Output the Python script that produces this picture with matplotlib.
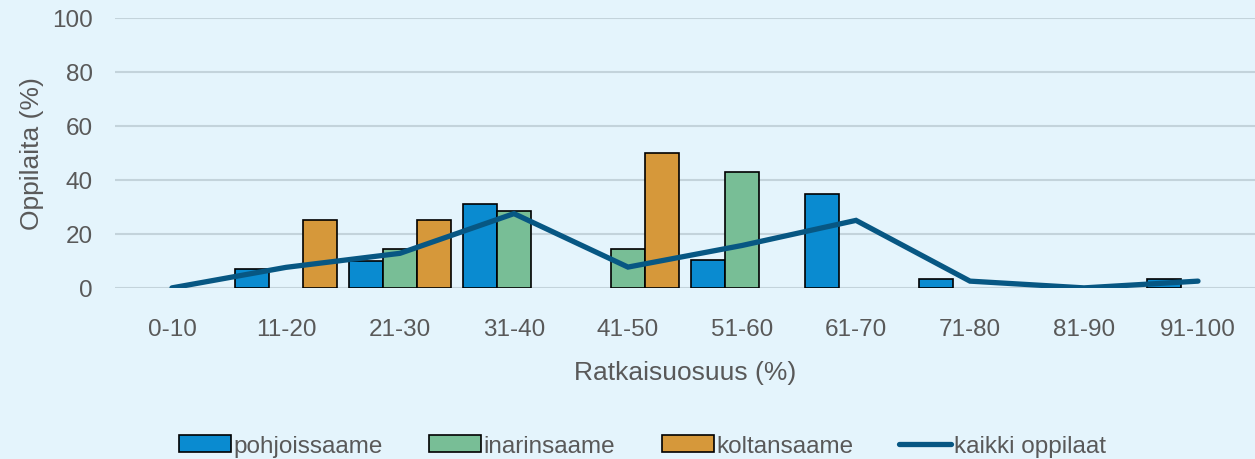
import matplotlib.pyplot as plt
from matplotlib.patches import Patch
from matplotlib.lines import Line2D
import numpy as np

plt.rcParams['font.family'] = ['Liberation Sans', 'DejaVu Sans']

# Ratkaisuosuus-luokat
luokat = ["0-10", "11-20", "21-30", "31-40", "41-50", "51-60",
          "61-70", "71-80", "81-90", "91-100"]

# Oppilaiden osuudet (%) kielittäin
pohjoissaame = [0, 7, 10, 31, 0, 10.4, 34.6, 3.4, 0, 3.4]
inarinsaame = [0, 0, 14.3, 28.6, 14.3, 42.9, 0, 0, 0, 0]
koltansaame = [0, 25, 25, 0, 50, 0, 0, 0, 0, 0]
kaikki = [0, 7.6, 12.8, 27.5, 7.7, 15.7, 25.0, 2.5, 0, 2.5]

tausta = "#E4F4FC"
teksti = "#595959"
sininen = "#0A8BD0"
vihrea = "#78BE96"
oranssi = "#D6983A"
viiva = "#075783"

fig = plt.figure(figsize=(12.55, 4.6), dpi=100, facecolor=tausta)
ax = fig.add_axes([0.0916, 0.372, 0.9084, 0.587])
ax.set_facecolor(tausta)

x = np.arange(len(luokat))
w = 0.3
sarjat = [(pohjoissaame, -w, sininen), (inarinsaame, 0, vihrea), (koltansaame, w, oranssi)]
for arvot, siirto, vari in sarjat:
    bars = ax.bar(x + siirto, arvot, w, color=vari, edgecolor="black",
                  linewidth=1.2, zorder=3)
    # nollapalkit pois näkyvistä
    for b, v in zip(bars, arvot):
        if v == 0:
            b.set_visible(False)

ax.plot(x, kaikki, color=viiva, linewidth=3.8, solid_capstyle="round",
        solid_joinstyle="miter", zorder=4)

ax.set_xlim(-0.5, len(luokat) - 0.5)
ax.set_ylim(0, 100)
ax.set_yticks(range(0, 101, 20))
ax.set_xticks(x)
ax.set_xticklabels(luokat)
ax.grid(axis="y", color="#C3D3DB", linewidth=1.5, zorder=0)
ax.set_axisbelow(True)
for s in ax.spines.values():
    s.set_visible(False)
ax.tick_params(length=0, labelsize=17.5, labelcolor=teksti)
ax.tick_params(axis="x", pad=22)
ax.tick_params(axis="y", pad=16)

ax.set_xlabel("Ratkaisuosuus (%)", fontsize=19, color=teksti, labelpad=14)
ax.set_ylabel("Oppilaita (%)", fontsize=19, color=teksti, labelpad=6)

kahvat = [
    Patch(facecolor=sininen, edgecolor="black", linewidth=1.2, label="pohjoissaame"),
    Patch(facecolor=vihrea, edgecolor="black", linewidth=1.2, label="inarinsaame"),
    Patch(facecolor=oranssi, edgecolor="black", linewidth=1.2, label="koltansaame"),
    Line2D([], [], color=viiva, linewidth=3.8, solid_capstyle="round", label="kaikki oppilaat"),
]
leg = fig.legend(handles=kahvat, loc="center", bbox_to_anchor=(0.512, 0.028),
                 ncol=4, frameon=False, fontsize=17.5, handlelength=2.14,
                 handleheight=0.7, handletextpad=0.1, columnspacing=1.9)
for t in leg.get_texts():
    t.set_color(teksti)

fig.savefig("out.png", dpi=100, facecolor=tausta)
